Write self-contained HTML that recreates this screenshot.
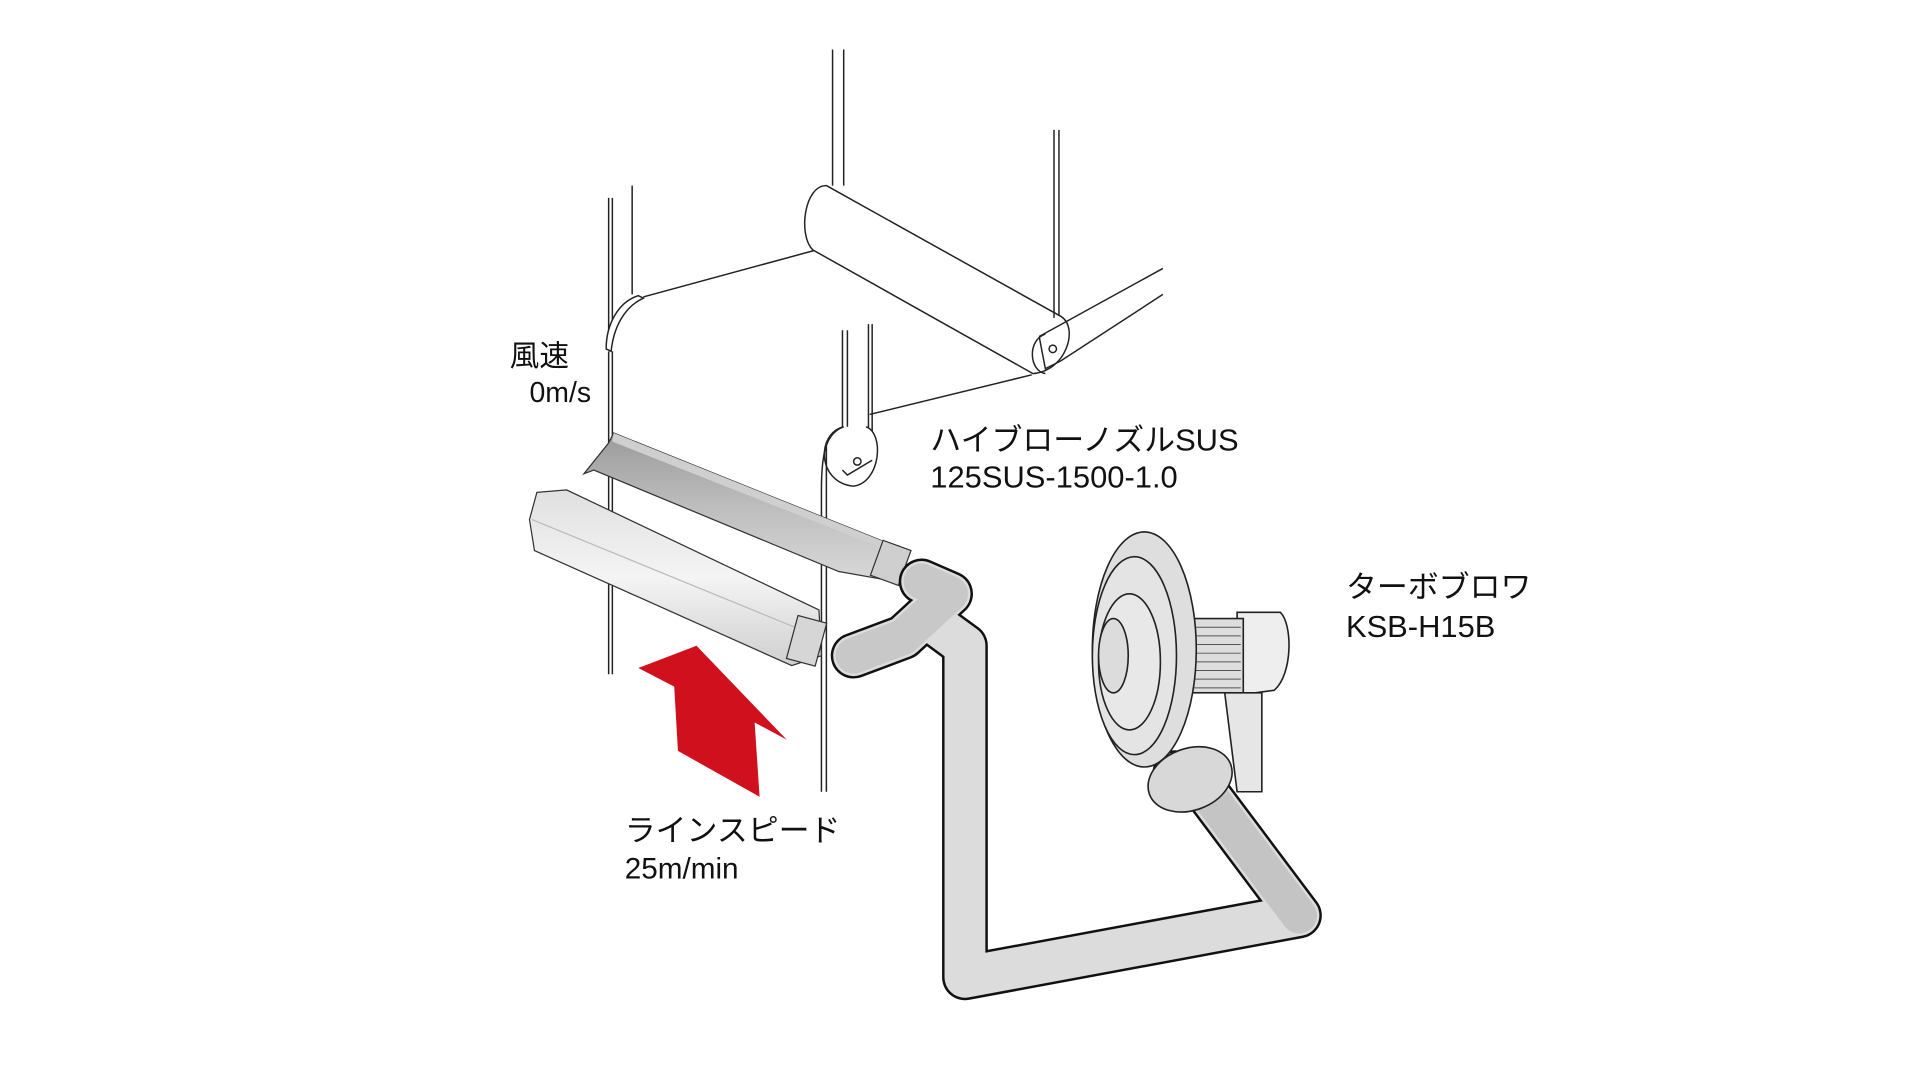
<!DOCTYPE html>
<html><head><meta charset="utf-8"><style>
html,body{margin:0;padding:0;background:#fff;}
svg{display:block;}
text{font-family:"Liberation Sans","Noto Sans CJK JP",sans-serif;fill:#111;}
</style></head><body>
<svg width="1920" height="1080" viewBox="0 0 1920 1080" xmlns="http://www.w3.org/2000/svg">
<defs>
<linearGradient id="gn" x1="0" y1="0" x2="0" y2="1"><stop offset="0" stop-color="#9a9a9a"/><stop offset="0.5" stop-color="#bdbdbd"/><stop offset="1" stop-color="#d8d8d8"/></linearGradient>
<linearGradient id="sn" x1="0" y1="0" x2="0" y2="1"><stop offset="0" stop-color="#e0e0e0"/><stop offset="0.5" stop-color="#f4f4f4"/><stop offset="1" stop-color="#cfcfcf"/></linearGradient>
</defs>
<g transform="scale(1.2371)" fill="none" stroke="#222" stroke-width="1.2">
<line x1="492" y1="160" x2="492" y2="270"/><line x1="495" y1="160" x2="495" y2="265"/>
<line x1="511" y1="150" x2="511" y2="238"/>
<path d="M516,239 C500,244 490,262 490,282 L494,284 C496,264 505,248 520,241 Z" fill="#fff"/>
<line x1="492" y1="284" x2="492" y2="545"/><line x1="495" y1="284" x2="495" y2="545"/>
<line x1="520" y1="240" x2="660" y2="202"/>
<line x1="673" y1="40" x2="673" y2="150"/><line x1="682" y1="40" x2="682" y2="150"/>
<path d="M668,150 L858,256 C872,265 862,300 835,302 L657,202 C645,190 650,150 668,150 Z" fill="#fff"/>
<line x1="852" y1="105" x2="852" y2="257"/><line x1="856" y1="105" x2="856" y2="255"/>
<path d="M840,272 L940,217 M857,292 L940,238 M840,272 L845,298 L857,292" />
<path d="M845,270 C830,275 832,300 845,302" />
<circle cx="851" cy="282" r="3"/>
<line x1="834" y1="303" x2="703" y2="335"/>
<line x1="681" y1="267" x2="681" y2="380"/><line x1="685" y1="267" x2="685" y2="380"/>
<line x1="702" y1="262" x2="702" y2="372"/><line x1="705" y1="262" x2="705" y2="372"/>
<path d="M682,345 C660,350 660,390 690,393 C712,390 715,350 700,345" fill="#fff"/>
<path d="M681,380 L685,384 L705,372" />
<circle cx="693" cy="373" r="3"/>
<path d="M682,345 C668,350 664,365 664,396 L664,640 M668,360 C668,370 668,380 668,396 L668,640"/>
</g>
<g transform="scale(1.2371)" stroke="#333" stroke-width="1">
<polygon points="496,350 720,440 712,468 678,462 480,380 472,383 484,368 492,358" fill="url(#gn)"/>
<polygon points="496,350 720,440 718,445 495,357" fill="#cfcfcf" stroke="none"/>
<rect x="708" y="440" width="24" height="30" fill="#cfcfcf" transform="rotate(20 720 455)"/>
<polygon points="434,398 458,396 662,493 664,530 640,538 432,445 428,420" fill="url(#sn)"/>
<line x1="430" y1="420" x2="662" y2="515" stroke="#bbb"/>
<rect x="640" y="500" width="24" height="36" fill="#d6d6d6" transform="rotate(15 652 518)"/>
</g>
<g transform="scale(1.2371)" stroke-linejoin="round" stroke-linecap="round" fill="none">
<path d="M745,470 L768,480 L730,515 L690,530 M750,500 L780,522 L780,790 L1050,740 L975,640 L950,625" stroke="#111" stroke-width="37"/>
<path d="M745,470 L768,480 L730,515 L690,530 M750,500 L780,522 L780,790 L1050,740 L975,640 L950,625" stroke="#dcdcdc" stroke-width="33"/>
<path d="M1050,740 L975,640 L950,625" stroke="#c4c4c4" stroke-width="29"/>
<path d="M745,470 L768,480 L730,515 L690,530" stroke="#c8c8c8" stroke-width="29"/>
</g>
<g transform="scale(1.2371)" stroke="#222" stroke-width="1.3">
<path d="M1000,495 L1035,495 C1045,505 1045,545 1030,558 L1000,562 Z" fill="#eee"/>
<rect x="960" y="500" width="45" height="60" fill="#ddd"/>
<g stroke="#555" stroke-width="0.8">
<line x1="962" y1="507" x2="1003" y2="507"/><line x1="962" y1="514" x2="1003" y2="514"/><line x1="962" y1="521" x2="1003" y2="521"/><line x1="962" y1="528" x2="1003" y2="528"/><line x1="962" y1="535" x2="1003" y2="535"/><line x1="962" y1="542" x2="1003" y2="542"/><line x1="962" y1="549" x2="1003" y2="549"/><line x1="962" y1="556" x2="1003" y2="556"/>
</g>
<path d="M990,560 L1020,560 L1020,640 L1000,640 Z" fill="#e6e6e6"/>
<ellipse cx="925" cy="525" rx="42" ry="95" fill="#dedede"/>
<ellipse cx="917" cy="530" rx="34" ry="80" fill="#e4e4e4"/>
<ellipse cx="913" cy="535" rx="25" ry="55" fill="#e8e8e8"/>
<ellipse cx="900" cy="530" rx="12" ry="30" fill="#dcdcdc"/>
<ellipse cx="962" cy="630" rx="35" ry="25" fill="#d8d8d8" transform="rotate(-20 962 630)"/>
</g>
<g transform="scale(1.2371)">
<polygon points="563,522 516,540 545,555 548,607 614,644 610,584 636,598" fill="#d0101c"/>
<text x="412" y="296" font-size="24">風速</text>
<text x="428" y="325" font-size="23">0m/s</text>
<text x="752" y="364" font-size="25">ハイブローノズルSUS</text>
<text x="752" y="394" font-size="25">125SUS-1500-1.0</text>
<text x="1088" y="483" font-size="25">ターボブロワ</text>
<text x="1088" y="515" font-size="25">KSB-H15B</text>
<text x="505" y="680" font-size="25">ラインスピード</text>
<text x="505" y="710" font-size="24">25m/min</text>
</g>
</svg>
</body></html>
